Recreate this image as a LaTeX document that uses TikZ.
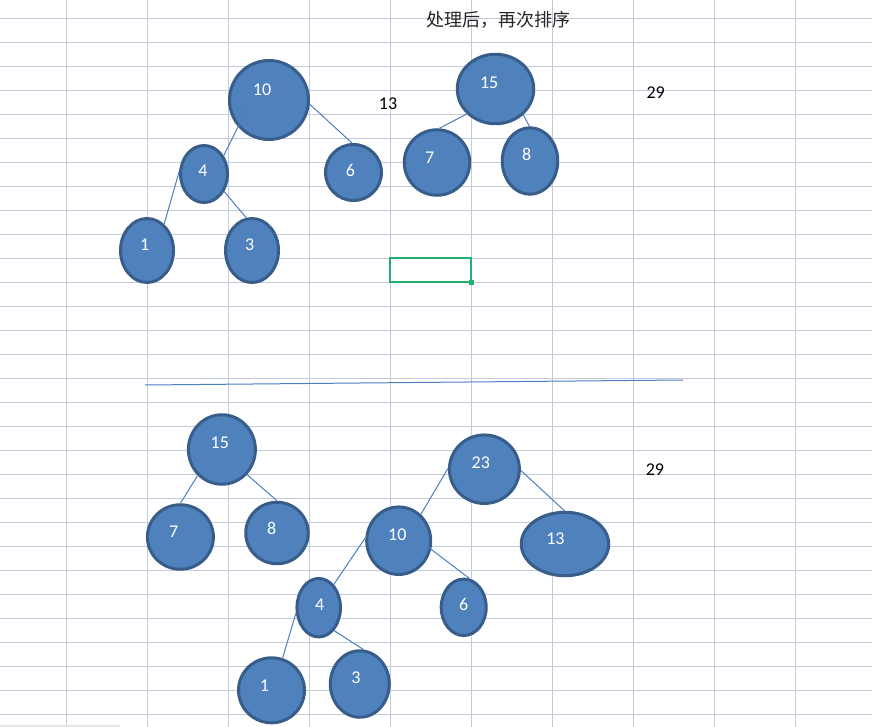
\documentclass[tikz,border=0pt]{standalone}
\usepackage{fontspec}
\setmainfont{Carlito}
\newfontfamily\cjk{Noto Sans CJK SC}
\usetikzlibrary{shapes.geometric}
\definecolor{gridline}{RGB}{196,202,222}
\definecolor{ballfill}{RGB}{79,129,189}
\definecolor{balldraw}{RGB}{56,93,138}
\definecolor{linkblue}{RGB}{74,126,192}
\definecolor{selgreen}{RGB}{34,177,115}

\begin{document}
\begin{tikzpicture}[x=1pt, y=-1pt,
  ball/.style = {ellipse, draw=balldraw, fill=ballfill,
    line width=3pt, inner sep=0pt},
  num/.style = {text=white, font=\fontsize{18}{18}\selectfont},
  value/.style = {text=black, font=\fontsize{18}{18}\selectfont},
  link/.style = {draw=linkblue, line width=1pt}
  ]
  \useasboundingbox (0,0) rectangle (872,727);
  % sheet grid
  \foreach \gx in {0,...,9}
    \draw[gridline, line width=1pt] ({66.7+81*\gx},0) -- ({66.7+81*\gx},727);
  \foreach \gy in {0,...,29}
    \draw[gridline, line width=1pt] (0,{18.3+24*\gy}) -- (872,{18.3+24*\gy});
  \fill[black!10] (0,724.8) rectangle (120,727);
  \draw[selgreen, line width=2.6pt] (390,258) rectangle (471,282);
  \fill[selgreen] (468.6,279.6) rectangle (473.6,284.6);

  \node[font=\cjk\fontsize{18}{18}\selectfont, text=black!85] (title) at (498.5,19.5) {处理后，再次排序};
  \node[value] (top13) at (388,104) {13};
  \node[value] (top29) at (655.7,92.7) {29};
  \node[value] (bot29) at (654.9,469.3) {29};

  % first row
  \node[ball, minimum width=79, minimum height=79,
    label={[num,xshift=-7pt,yshift=10pt]center:10}] (a10) at (269,100) {};
  \node[ball, minimum width=47, minimum height=57,
    label={[num,xshift=-1pt,yshift=3pt]center:4}] (a4) at (204,174) {};
  \node[ball, minimum width=56, minimum height=56,
    label={[num,xshift=-3pt,yshift=2pt]center:6}] (a6) at (353.5,172.5) {};
  \node[ball, minimum width=53, minimum height=64,
    label={[num,xshift=-2.3pt,yshift=5.8pt]center:1}] (a1) at (147,250.5) {};
  \node[ball, minimum width=53, minimum height=64,
    label={[num,xshift=-2.3pt,yshift=5.8pt]center:3}] (a3) at (252,250.5) {};
  \node[ball, minimum width=76.5, minimum height=69.5,
    label={[num,xshift=-6.3pt,yshift=6.5pt]center:15}] (a15) at (495.5,89) {};
  \node[ball, minimum width=65.5, minimum height=65.5,
    label={[num,xshift=-7.3pt,yshift=5pt]center:7}] (a7) at (437,162.5) {};
  \node[ball, minimum width=55.5, minimum height=66.5,
    label={[num,xshift=-3.3pt,yshift=6.8pt]center:8}] (a8) at (530,161) {};

  \draw[link, shorten <=-24pt] (a10.221) -- (a4.43);
  \draw[link] (a10.-6) -- (a6.93);
  \draw[link] (a4.175) -- (a1.57);
  \draw[link] (a4.-41) -- (a3.100);
  \draw[link] (a15.221) -- (a7.86);
  \draw[link] (a15.-43) -- (a8.91);

  \coordinate (sepL) at (145,385);
  \coordinate (sepR) at (683,380);
  \draw[link] (sepL) -- (sepR);

  % second row
  \node[ball, minimum width=67, minimum height=69.5,
    label={[num,xshift=-2.1pt,yshift=7pt]center:15}] (b15) at (221.9,449.5) {};
  \node[ball, minimum width=66, minimum height=64.5,
    label={[num,xshift=-6.7pt,yshift=5.5pt]center:7}] (b7) at (180.4,537) {};
  \node[ball, minimum width=62.5, minimum height=61.5,
    label={[num,xshift=-5.4pt,yshift=4.2pt]center:8}] (b8) at (277,533) {};
  \node[ball, minimum width=70, minimum height=68.5,
    label={[num,xshift=-3.6pt,yshift=6.7pt]center:23}] (b23) at (484.4,469.2) {};
  \node[ball, minimum width=64, minimum height=67.5,
    label={[num,xshift=-1.4pt,yshift=6.2pt]center:10}] (b10) at (398.7,540.7) {};
  \node[ball, minimum width=87.5, minimum height=63.5,
    label={[num,xshift=-9.6pt,yshift=5.2pt]center:13}] (b13) at (565,544) {};
  \node[ball, minimum width=43.5, minimum height=58.5,
    label={[num,xshift=0.9pt,yshift=3.2pt]center:4}] (b4) at (318.7,607.7) {};
  \node[ball, minimum width=45, minimum height=56.5,
    label={[num,xshift=0pt,yshift=2.8pt]center:6}] (b6) at (463.7,607.3) {};
  \node[ball, minimum width=66, minimum height=65,
    label={[num,xshift=-7pt,yshift=4.5pt]center:1}] (b1) at (271.5,690.3) {};
  \node[ball, minimum width=59, minimum height=66.5,
    label={[num,xshift=-3.8pt,yshift=6.5pt]center:3}] (b3) at (359.8,684) {};

  \draw[link] (b15.227) -- (b7.90);
  \draw[link] (b15.-45) -- (b8.90);
  \draw[link] (b23.179) -- (b10.50);
  \draw[link] (b23.-2) -- (b13.91);
  \draw[link] (b10.175) -- (b4.57);
  \draw[link, shorten <=-14pt] (b10.-15) -- (b6.79);
  \draw[link] (b4.194) -- (b1.71);
  \draw[link] (b4.-56) -- (b3.84);
\end{tikzpicture}
\end{document}
